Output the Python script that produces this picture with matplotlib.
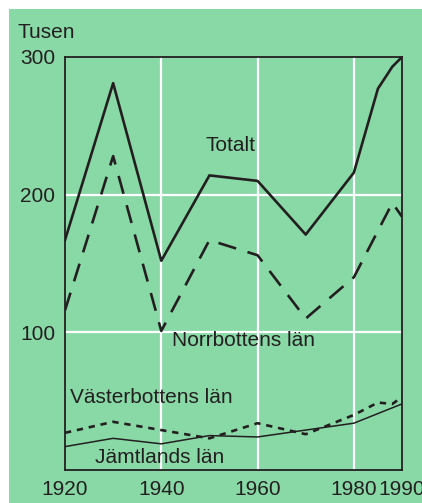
import matplotlib.pyplot as plt
from matplotlib.patches import Rectangle

plt.rcParams['font.family'] = ['Liberation Sans', 'DejaVu Sans']

# values in thousands
years_tot = [1920, 1930, 1940, 1950, 1960, 1970, 1980, 1985, 1988, 1990]
totalt = [167, 281, 152, 214, 210, 171, 216, 277, 293, 300]

years_nb = [1920, 1930, 1940, 1950, 1960, 1970, 1980, 1988, 1990]
norrbotten = [116, 228, 101, 167, 156, 110, 140, 194, 184]

years_vb = [1920, 1930, 1940, 1950, 1960, 1970, 1980, 1985, 1988, 1990]
vasterbotten = [27, 35, 29, 23, 34, 26, 40, 49, 48, 53]

years_jl = [1920, 1930, 1940, 1950, 1960, 1970, 1980, 1985, 1990]
jamtland = [17, 23, 19, 25, 24, 29, 34, 41, 48]

green = '#89d9a7'
ink = '#231f20'
fs = 15

fig = plt.figure(figsize=(4.22, 5.03), dpi=100)
fig.patch.set_facecolor('white')
fig.patches.append(Rectangle((9/422, 0), 1, 1 - 9/503, transform=fig.transFigure,
                             facecolor=green, edgecolor='none', zorder=-10))

ax = fig.add_axes([65/422, 1 - 470/503, (402 - 65)/422, (470 - 57)/503])
ax.set_facecolor(green)

ax.plot(years_tot, totalt, color=ink, lw=1.9)
ax.plot(years_nb, norrbotten, color=ink, lw=1.9, dashes=(7, 4.5))
ax.plot(years_vb, vasterbotten, color=ink, lw=1.9, dashes=(2.4, 2.2))
ax.plot(years_jl, jamtland, color=ink, lw=1.1)

ax.set_xlim(1920, 1990)
ax.set_ylim(0, 300)
ax.set_xticks([1920, 1940, 1960, 1980, 1990])
ax.set_yticks([100, 200, 300])
ax.tick_params(length=0, labelsize=fs, colors=ink)
ax.tick_params(axis='y', pad=7)
ax.tick_params(axis='x', pad=7)
for s in ax.spines.values():
    s.set_color(ink)
    s.set_linewidth(1.3)

for x in [1940, 1960, 1980]:
    ax.axvline(x, color='white', lw=1.6, zorder=0)
for y in [100, 200]:
    ax.axhline(y, color='white', lw=1.6, zorder=0)

fig.text(17/422, 1 - 32/503, 'Tusen', fontsize=fs, color=ink, va='center')
ax.text(1949.1, 236, 'Totalt', fontsize=fs, color=ink, va='center')
ax.text(1942.2, 94, 'Norrbottens län', fontsize=fs, color=ink, va='center')
ax.text(1921.0, 53, 'Västerbottens län', fontsize=fs, color=ink, va='center')
ax.text(1926.2, 9, 'Jämtlands län', fontsize=fs, color=ink, va='center')

fig.savefig('out.png', dpi=100, facecolor=fig.get_facecolor())
